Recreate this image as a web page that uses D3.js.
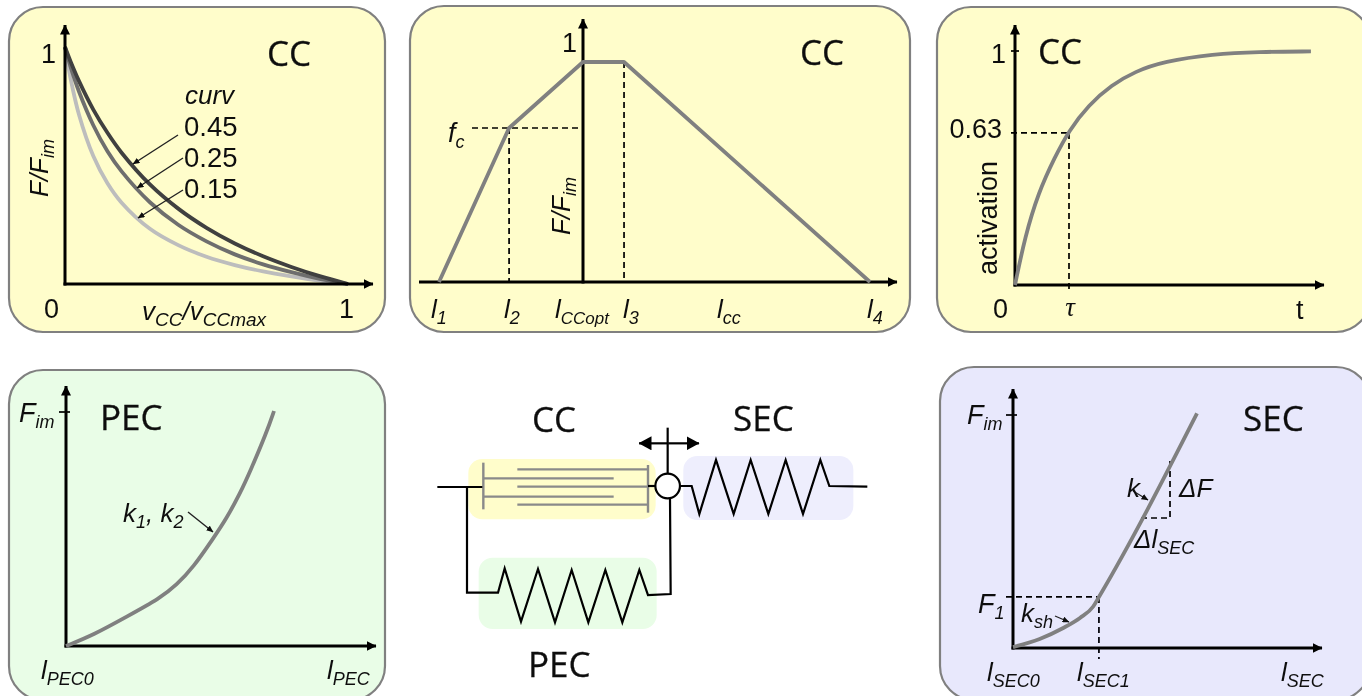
<!DOCTYPE html>
<html><head><meta charset="utf-8">
<script src="https://cdn.jsdelivr.net/npm/d3@7/dist/d3.min.js"></script>
<style>html,body{margin:0;padding:0;background:#fff;overflow:hidden}svg{display:block}</style>
</head><body><svg id="c" width="1362" height="696"></svg>
<script>
// ---- values ----
const fvX      = [0,.02,.05,.1,.15,.2,.3,.4,.5,.6,.7,.8,.9,1];
const curvLabels = ["0.45","0.25","0.15"];
const fvCurv45 = [1,.938,.855,.736,.638,.554,.42,.318,.237,.171,.117,.072,.033,0];
const fvCurv25 = [1,.915,.81,.67,.56,.475,.345,.25,.18,.125,.083,.05,.022,0];
const fvCurv15 = [1,.865,.712,.54,.425,.343,.233,.164,.115,.08,.053,.032,.014,0];
const flLength = [.4,.692,1,1.171,2.196];
const flForce  = [0,.7,1,1,0];
const flLabels = ["1","2","CCopt","3"];
const actTime  = [0,.185,.43,.74,1,1.36,1.79,2.22,2.75,3.67,4.5,5.48];
const actValue = [0,.206,.393,.548,.66,.769,.855,.912,.955,.987,.997,.998];
const pecStrain= [0,.132,.292,.452,.532,.612,.708,.772,.837,.884,.965,1];
const pecForce = [0,.047,.125,.203,.26,.335,.458,.543,.65,.74,.91,1];
const secStrain= [0,.145,.273,.364,.436,.467,1];
const secForce = [.004,.039,.086,.129,.178,.219,1.007];
// schematic nodes, in drawing units
const pecSpringX = [234,254,303,354,405,455,505,556,607,658,684];
const pecSpringY = [608,535,695,537,697,540,697,540,697,540,615];
const secSpringX = [783,815,838,888,941,992,1045,1097,1149,1201,1228,1342];
const secSpringY = [288,288,372,210,372,210,372,210,372,210,288,290];
const ccFromLeftY  = [265,320];
const ccFromRightY = [238,290,344];

// ---- helpers ----
const svg = d3.select("#c");
const defs = svg.append("defs");
defs.append("filter").attr("id","soft").attr("filterUnits","userSpaceOnUse").attr("x",0).attr("y",0).attr("width",1362).attr("height",696)
  .append("feGaussianBlur").attr("stdDeviation",0.55);
function marker(id,w,h,col){
  defs.append("marker").attr("id",id).attr("viewBox",`0 0 ${w} ${h}`).attr("refX",w-0.5).attr("refY",h/2)
    .attr("markerUnits","userSpaceOnUse").attr("markerWidth",w).attr("markerHeight",h).attr("orient","auto-start-reverse")
    .append("path").attr("d",`M0,0L${w},${h/2}L0,${h}Z`).attr("fill",col);
}
marker("ax",10,10,"#000"); marker("sm",7,6,"#111"); marker("big",13,14,"#000");
const root = svg.append("g").attr("filter","url(#soft)");

const SANS = "'Liberation Sans',Arial,sans-serif", HEAD = "'Open Sans',sans-serif";
function label(g,x,y,parts,o={}){
  const size=o.size||26, sub=o.sub||18, drop=o.drop||6;
  const t=g.append("text").attr("x",x).attr("y",y).attr("font-family",o.family||SANS).attr("font-size",size)
    .attr("font-style",o.italic?"italic":"normal").attr("fill","#111").attr("text-anchor",o.anchor||"start");
  if(o.rotate) t.attr("transform",`rotate(-90 ${x} ${y})`);
  let lowered=false;
  parts.forEach(p=>{
    const isSub=Array.isArray(p), s=t.append("tspan").text(isSub?p[0]:p);
    if(isSub){s.attr("font-size",sub); if(!lowered){s.attr("dy",drop);lowered=true;}}
    else if(lowered){s.attr("dy",-drop);lowered=false;}
  });
  return t;
}
const head=(g,x,y,s)=>label(g,x,y,[s],{family:HEAD,size:35}).attr("stroke","#111").attr("stroke-width",0.3);
function box(x0,y0,x1,y1,fill,r){
  root.append("rect").attr("x",x0).attr("y",y0).attr("width",x1-x0).attr("height",y1-y0).attr("rx",r).attr("ry",r)
    .attr("fill",fill).attr("stroke","#808080").attr("stroke-width",2.2);
}
function axes(g,ox,oy,xEnd,yEnd,xLeft){
  const xs=d3.scaleLinear().domain([0,1]).range([xLeft==null?ox:xLeft,xEnd]);
  const ys=d3.scaleLinear().domain([0,1]).range([oy,yEnd]);
  const ax=g.append("g").attr("transform",`translate(0,${oy})`).call(d3.axisBottom(xs).tickValues([]).tickSize(0).offset(0));
  const ay=g.append("g").attr("transform",`translate(${ox},0)`).call(d3.axisLeft(ys).tickValues([]).tickSize(0).offset(0));
  [ax,ay].forEach(a=>a.select(".domain").attr("stroke","#000").attr("stroke-width",3).attr("marker-end","url(#ax)"));
  ay.select(".domain").attr("d",`M0,${oy+1.5}L0,${yEnd}`);
  ax.select(".domain").attr("d",`M${xLeft==null?ox-1.5:xLeft},0L${xEnd},0`);
}
function curve(g,xs,ys,X,Y,col,w,cv){
  g.append("path").datum(xs.map((x,i)=>[x,ys[i]]))
   .attr("d",d3.line().x(d=>X(d[0])).y(d=>Y(d[1])).curve(cv||d3.curveCatmullRom.alpha(0.5)))
   .attr("fill","none").attr("stroke",col).attr("stroke-width",w).attr("stroke-linejoin","round").attr("stroke-linecap","butt");
}
function seg(g,x1,y1,x2,y2,o={}){
  const l=g.append("line").attr("x1",x1).attr("y1",y1).attr("x2",x2).attr("y2",y2)
    .attr("stroke",o.col||"#000").attr("stroke-width",o.w||1.7);
  if(o.dash) l.attr("stroke-dasharray",o.dash);
  if(o.arrow) l.attr("marker-end",`url(#${o.arrow})`);
  return l;
}
const DASH="6 4";
const CW=3.8;

// ---- panel 1: force-velocity ----
{
  box(9,7,385,332,"#FFFDCB",34);
  const g=root.append("g"), X=d3.scaleLinear().domain([0,1]).range([65,348]), Y=d3.scaleLinear().domain([0,1]).range([284,47]);
  curve(g,fvX,fvCurv15,X,Y,"#BDBDBD",CW);
  curve(g,fvX,fvCurv25,X,Y,"#6E6E6E",CW);
  curve(g,fvX,fvCurv45,X,Y,"#3F3F3F",CW);
  axes(g,65,284,373,25);
  label(g,X(0)-9,Y(1)+16,["1"],{anchor:"end",size:27});
  label(g,44,318,["0"],{size:27}); label(g,X(1)-9,318,["1"],{size:27});
  label(g,142,320,["v",["CC"],"/v",["CCmax"]],{italic:true,size:26,sub:19});
  label(g,48,197,["F/F",["im"]],{italic:true,rotate:true});
  label(g,185,104,["curv"],{italic:true,size:26});
  curvLabels.forEach((s,i)=>label(g,184,136+i*31,[s],{size:27.5}));
  seg(g,178,135,133,164,{w:1.4,arrow:"sm",col:"#222"});
  seg(g,183,158,137,188,{w:1.4,arrow:"sm",col:"#222"});
  seg(g,183,190,138,218,{w:1.4,arrow:"sm",col:"#222"});
  head(g,267,66,"CC");
}
// ---- panel 2: force-length ----
{
  box(410,6,910,332,"#FFFDCB",34);
  const g=root.append("g"), X=d3.scaleLinear().domain([.4,1]).range([439,583]), Y=d3.scaleLinear().domain([0,1]).range([282,62]);
  axes(g,X(1),282,897,19,419);
  seg(g,X(flLength[1]),Y(flForce[1]),X(flLength[1]),282,{dash:DASH});
  seg(g,X(flLength[3]),Y(1),X(flLength[3]),282,{dash:DASH});
  seg(g,472,Y(flForce[1]),X(1),Y(flForce[1]),{dash:DASH});
  curve(g,flLength,flForce,X,Y,"#808080",CW,d3.curveLinear);
  label(g,562,52,["1"],{size:27});
  label(g,448,142,["f",["c"]],{italic:true,size:27});
  label(g,570,235,["F/F",["im"]],{italic:true,rotate:true});
  const names=[431,504,555,623];
  flLabels.forEach((s,i)=>label(g,names[i],318,["l",[s]],{italic:true,sub:s.length>1?17:18}));
  label(g,717,318,["l",["cc"]],{italic:true});
  label(g,867,318,["l",["4"]],{italic:true});
  head(g,800,65,"CC");
}
// ---- panel 3: activation ----
{
  box(937,7,1370,332,"#FFFDCB",34);
  const g=root.append("g"), X=d3.scaleLinear().domain([0,1]).range([1015,1069]), Y=d3.scaleLinear().domain([0,1]).range([285,51]);
  axes(g,1015,285,1324,25);
  seg(g,1011,Y(1),1019,Y(1));
  seg(g,1011,Y(.65),X(1),Y(.65),{dash:DASH});
  seg(g,X(1),Y(.65),X(1),293,{dash:DASH});
  curve(g,actTime,actValue,X,Y,"#808080",CW,d3.curveBasis);
  label(g,1006,63,["1"],{anchor:"end",size:27});
  label(g,1002,138,["0.63"],{anchor:"end",size:27});
  label(g,997,275,["activation"],{rotate:true,size:27});
  label(g,993,318,["0"],{size:27});
  label(g,X(1)+1,316,["τ"],{anchor:"middle",family:"'Liberation Serif',serif",italic:true,size:27});
  label(g,1296,319,["t"],{size:27});
  head(g,1038,64,"CC");
}
// ---- panel 4: PEC ----
{
  box(9,370,385,700,"#E9FDE7",34);
  const g=root.append("g"), X=d3.scaleLinear().domain([0,1]).range([66,274]), Y=d3.scaleLinear().domain([0,1]).range([646,411]);
  axes(g,66,646,376,386);
  seg(g,59,412,70,412);
  curve(g,pecStrain,pecForce,X,Y,"#808080",CW,d3.curveBasis);
  seg(g,188,512,213,532,{w:1.4,arrow:"sm",col:"#222"});
  label(g,19,422,["F",["im"]],{italic:true,size:27});
  label(g,123,522,["k",["1"],", k",["2"]],{italic:true});
  label(g,41,679,["l",["PEC0"]],{italic:true});
  label(g,327,679,["l",["PEC"]],{italic:true});
  head(g,100,430,"PEC");
}
// ---- panel 6: SEC ----
{
  box(940,367,1370,700,"#E8E8FC",34);
  const g=root.append("g"), X=d3.scaleLinear().domain([0,1]).range([1013,1197]), Y=d3.scaleLinear().domain([0,1]).range([648,415]);
  axes(g,1013,648,1322,389);
  seg(g,1006,415,1017,415);
  seg(g,1006,Y(.219),X(.467),Y(.219),{dash:DASH});
  seg(g,X(.467),Y(.219),X(.467),659,{dash:DASH});
  seg(g,1170,461,1170,518,{dash:DASH});
  seg(g,1141,518,1170,518,{dash:DASH});
  curve(g,secStrain,secForce,X,Y,"#808080",CW,d3.curveMonotoneX);
  seg(g,1133,491,1148,500,{w:1.3,arrow:"sm",col:"#222"});
  seg(g,1055,616,1069,622,{w:1.3,arrow:"sm",col:"#222"});
  label(g,967,424,["F",["im"]],{italic:true,size:27});
  label(g,978,613,["F",["1"]],{italic:true,size:27});
  label(g,1021,622,["k",["sh"]],{italic:true,size:26});
  label(g,1127,497,["k"],{italic:true});
  label(g,1179,497,["ΔF"],{italic:true});
  label(g,1134,548,["Δl",["SEC"]],{italic:true});
  label(g,987,681,["l",["SEC0"]],{italic:true});
  label(g,1077,681,["l",["SEC1"]],{italic:true});
  label(g,1281,681,["l",["SEC"]],{italic:true});
  head(g,1243,431,"SEC");
}
// ---- centre schematic ----
{
  const g=root.append("g");
  const SX=d3.scaleLinear().domain([0,1380]).range([420,880]), SY=d3.scaleLinear().domain([0,900]).range([390,690]);
  const bg=(a,b,c,d,f)=>g.append("rect").attr("x",SX(a)).attr("y",SY(c)).attr("width",SX(b)-SX(a)).attr("height",SY(d)-SY(c)).attr("rx",14).attr("fill",f);
  bg(145,707,207,388,"#FFFDCB"); bg(790,1300,198,390,"#EEEEFD"); bg(176,710,503,717,"#E9FDE7");
  const grey={col:"#8a8a8a",w:2.4}, blk={col:"#000",w:2.2};
  seg(g,SX(190),SY(218),SX(190),SY(358),grey);
  seg(g,SX(684),SY(225),SX(684),SY(368),grey);
  ccFromLeftY.forEach(y=>seg(g,SX(190),SY(y),SX(581),SY(y),grey));
  ccFromRightY.forEach(y=>seg(g,SX(292),SY(y),SX(684),SY(y),grey));
  seg(g,SX(52),SY(291),SX(187),SY(291),blk);
  seg(g,SX(684),SY(288),SX(710),SY(288),blk);
  const ln=d3.line().x(d=>SX(d[0])).y(d=>SY(d[1]));
  const poly=(pts)=>g.append("path").attr("d",ln(pts)).attr("fill","none").attr("stroke","#000").attr("stroke-width",2.2).attr("stroke-linejoin","miter");
  const pec=pecSpringX.map((x,i)=>[x,pecSpringY[i]]);
  poly([[141,291],[141,608],...pec,[752,612],[750,325]]);
  poly(secSpringX.map((x,i)=>[x,secSpringY[i]]));
  seg(g,SX(743),SY(113),SX(743),SY(250),blk);
  seg(g,SX(745),SY(160),SX(657),SY(160),{w:2.2,arrow:"big"});
  seg(g,SX(745),SY(160),SX(837),SY(160),{w:2.2,arrow:"big"});
  g.append("circle").attr("cx",SX(743)).attr("cy",SY(288)).attr("r",12.3).attr("fill","#fff").attr("stroke","#000").attr("stroke-width",2.2);
  head(g,532,432,"CC"); head(g,733,431,"SEC"); head(g,528,677,"PEC");
}
</script></body></html>
